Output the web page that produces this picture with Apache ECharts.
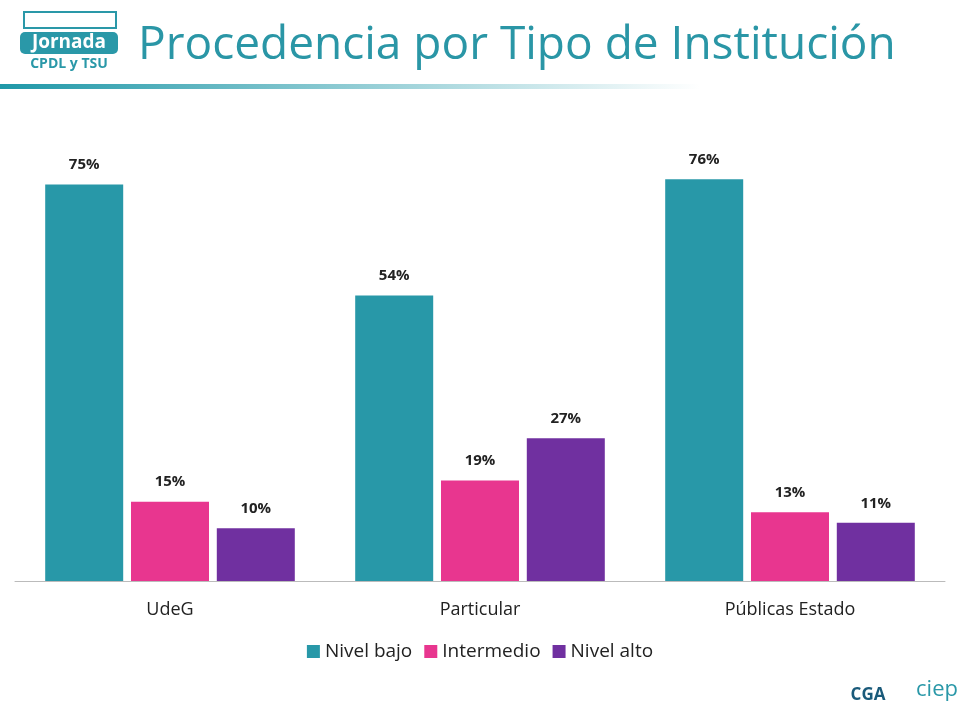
<!DOCTYPE html>
<html><head><meta charset="utf-8">
<script src="https://cdn.jsdelivr.net/npm/echarts@6/dist/echarts.min.js"></script>
<style>html,body{margin:0;padding:0;background:#fff}#main{width:960px;height:720px}</style>
</head><body><div id="main"></div>
<script>
var categories = ['UdeG', 'Particular', 'Públicas Estado'];
var nivelBajo = [75, 54, 76];
var intermedio = [15, 19, 13];
var nivelAlto = [10, 27, 11];

var myChart = echarts.init(document.getElementById('main'));
var lbl = { show: true, position: 'top', distance: 12, formatter: '{c}%', color: '#222', fontWeight: 'bold', fontSize: 15, fontFamily: 'Open Sans' };
var option = {
    backgroundColor: '#fff',
    title: { text: 'Procedencia por Tipo de Institución', left: 133, top: 18,
        textStyle: { color: '#2a96a6', fontSize: 46, fontWeight: 'normal', fontFamily: 'Open Sans' } },
    graphic: [
        { type: 'rect', shape: { x: 0, y: 84, width: 700, height: 5 },
          style: { fill: new echarts.graphic.LinearGradient(0, 0, 1, 0, [{ offset: 0, color: '#1f98a8' }, { offset: 1, color: 'rgba(31,152,168,0)' }]) } },
        { type: 'rect', shape: { x: 20, y: 32, width: 98, height: 22, r: 5 }, style: { fill: '#2a98a8' } },
        { type: 'text', x: 69, y: 43, style: { text: 'Jornada', fill: '#fff', font: 'bold 19px Open Sans', align: 'center', verticalAlign: 'middle' } },
        { type: 'text', x: 69, y: 64, style: { text: 'CPDL y TSU', fill: '#2a98a8', font: 'bold 14px Open Sans', align: 'center', verticalAlign: 'middle' } },
        { type: 'rect', shape: { x: 24, y: 12, width: 92, height: 16 }, style: { fill: '#fff', stroke: '#2a98a8', lineWidth: 2 } },
        { type: 'text', x: 868, y: 695, style: { text: 'CGA', fill: '#1a5a7a', font: 'bold 17px Open Sans', align: 'center', verticalAlign: 'middle' } },
        { type: 'text', x: 937, y: 690, style: { text: 'ciep', fill: '#2a98a8', font: '22px Open Sans', align: 'center', verticalAlign: 'middle' } }
    ],
    legend: { bottom: 54, left: 'center', itemWidth: 13, itemHeight: 13, itemGap: 12, icon: 'rect',
        textStyle: { fontSize: 19, color: '#222', fontFamily: 'Open Sans' } },
    grid: { left: 15, right: 15, top: 158, bottom: 139 },
    xAxis: { type: 'category', data: categories,
        axisLine: { lineStyle: { color: '#bbb' } }, axisTick: { show: false },
        axisLabel: { fontSize: 18, color: '#222', margin: 20, fontFamily: 'Open Sans' } },
    yAxis: { type: 'value', min: 0, max: 80, show: false, splitLine: { show: false } },
    series: [
        { name: 'Nivel bajo', type: 'bar', data: nivelBajo, barWidth: 78, barGap: '10%', itemStyle: { color: '#2898a8' }, label: lbl },
        { name: 'Intermedio', type: 'bar', data: intermedio, barWidth: 78, itemStyle: { color: '#e8368f' }, label: lbl },
        { name: 'Nivel alto', type: 'bar', data: nivelAlto, barWidth: 78, itemStyle: { color: '#7030a0' }, label: lbl }
    ]
};
myChart.setOption(option);
</script></body></html>
